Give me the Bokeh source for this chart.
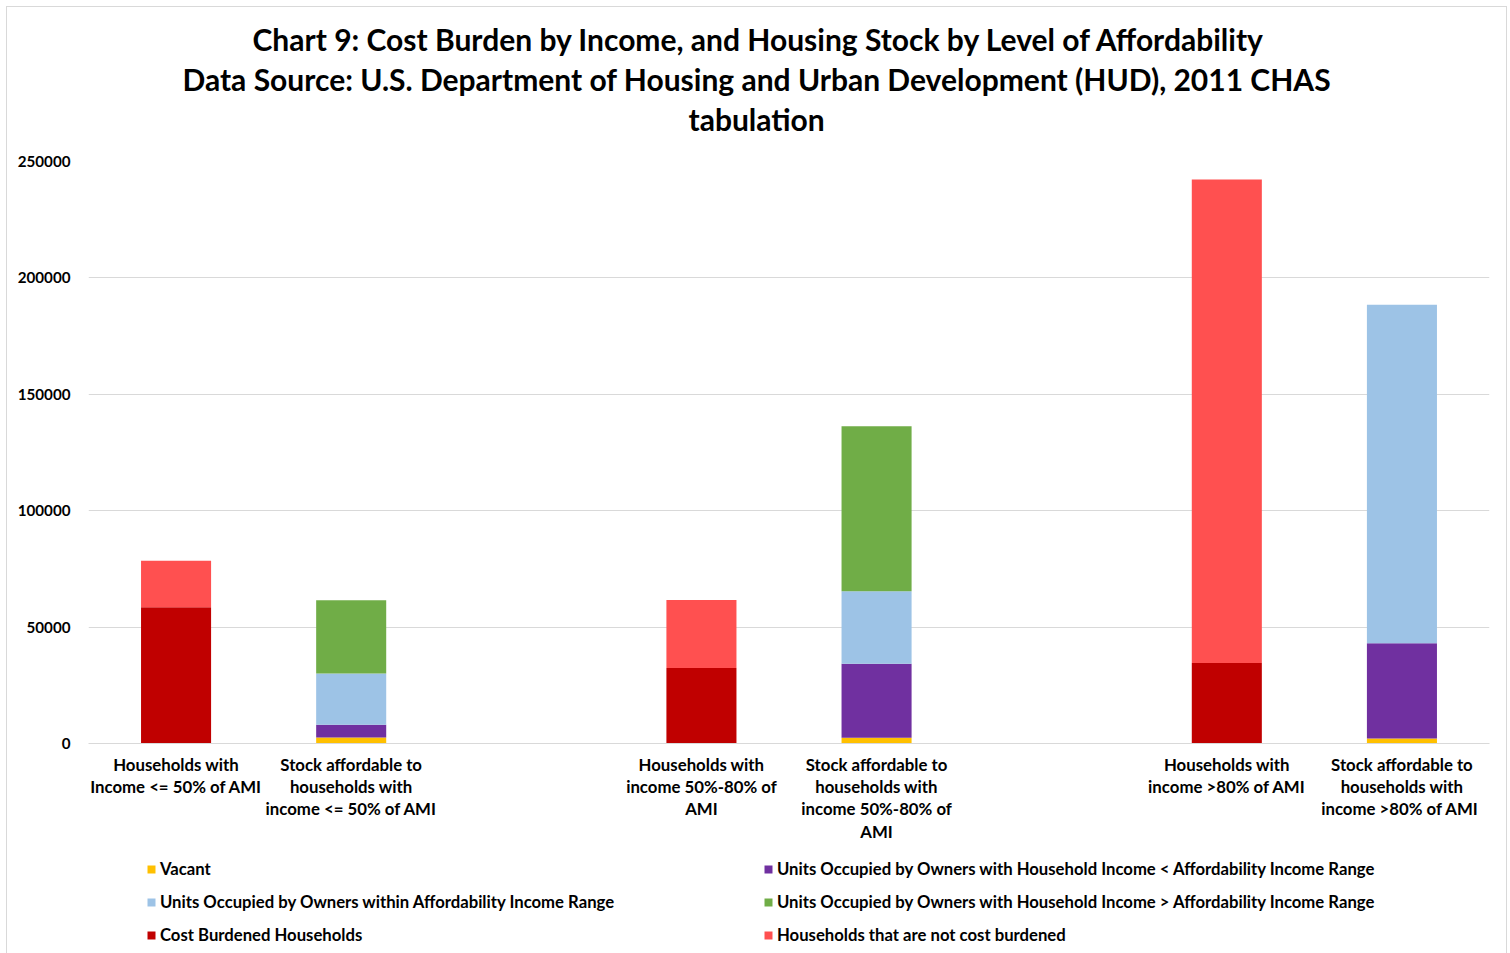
from bokeh.plotting import figure
from bokeh.layouts import column
from bokeh.models import FixedTicker, Legend, LegendItem, Title, NumeralTickFormatter, Range1d
from bokeh.embed import file_html
from bokeh.resources import INLINE

categories = [
    "Households with\nIncome <= 50% of AMI",
    "Stock affordable to\nhouseholds with\nincome <= 50% of AMI",
    "",
    "Households with\nincome 50%-80% of\nAMI",
    "Stock affordable to\nhouseholds with\nincome 50%-80% of\nAMI",
    "",
    "Households with\nincome >80% of AMI",
    "Stock affordable to\nhouseholds with\nincome  >80% of AMI",
]

vacant = [0, 2600, 0, 0, 2450, 0, 0, 2150]
owners_below = [0, 5450, 0, 0, 31840, 0, 0, 40880]
owners_within = [0, 22070, 0, 0, 31110, 0, 0, 145440]
owners_above = [0, 31410, 0, 0, 70870, 0, 0, 0]
cost_burdened = [58500, 0, 0, 32400, 0, 0, 34550, 0]
not_burdened = [20000, 0, 0, 29260, 0, 0, 207700, 0]

series_names = [
    "Vacant",
    "Units Occupied by Owners with Household Income < Affordability Income Range",
    "Units Occupied by Owners within Affordability Income Range",
    "Units Occupied by Owners with Household Income > Affordability Income Range",
    "Cost Burdened Households",
    "Households that are not cost burdened",
]
series_keys = ["vacant", "below", "within", "above", "burdened", "not_burdened"]
series_colors = ["#FFC000", "#7030A0", "#9DC3E6", "#70AD47", "#C00000", "#FF5050"]
y_ticks = [0, 50000, 100000, 150000, 200000, 250000]
title_lines = [
    "Chart 9: Cost Burden by Income, and Housing Stock by Level of Affordability",
    "Data Source: U.S. Department of Housing and Urban Development (HUD), 2011 CHAS",
    "tabulation",
]

x = list(range(1, len(categories) + 1))
data = dict(x=x, vacant=vacant, below=owners_below, within=owners_within,
            above=owners_above, burdened=cost_burdened, not_burdened=not_burdened)

FONT = "Lato"
BORDER = "1px solid #d9d9d9"

p = figure(width=1501, height=842, output_backend="svg", toolbar_location=None,
           x_range=Range1d(0.5, len(categories) + 0.5), y_range=Range1d(0, 250000),
           min_border_left=81, min_border_right=19, min_border_top=154, min_border_bottom=106)
p.styles = {"border-top": BORDER, "border-left": BORDER, "border-right": BORDER,
            "box-sizing": "border-box", "margin-left": "6px", "margin-top": "6px"}

# titles are centred on the whole chart box rather than on the plot frame
def make_title(t, offset, size="30px"):
    return Title(text=t, align="left", text_font=FONT, text_font_size=size,
                 text_font_style="bold", text_color="#000000", standoff=2, offset=offset)

p.title = make_title(title_lines[0], 164)
p.add_layout(make_title(" ", 0, "16.5px"), "above")
p.add_layout(make_title(title_lines[2], 600), "above")
p.add_layout(make_title(title_lines[1], 94), "above")

renderers = p.vbar_stack(series_keys, x="x", width=0.4, source=data,
                         color=series_colors, line_color=None)

p.outline_line_color = None
p.xgrid.grid_line_color = None
p.ygrid.grid_line_color = "#d9d9d9"
p.ygrid.grid_line_width = 1

p.yaxis.ticker = FixedTicker(ticks=y_ticks)
p.yaxis.formatter = NumeralTickFormatter(format="0")
p.yaxis.axis_line_color = None
p.yaxis.major_tick_line_color = None
p.yaxis.minor_tick_line_color = None
p.yaxis.major_label_standoff = 12
p.yaxis.major_label_text_font = FONT
p.yaxis.major_label_text_font_size = "15.2px"
p.yaxis.major_label_text_font_style = "bold"
p.yaxis.major_label_text_color = "#000000"

p.xaxis.ticker = FixedTicker(ticks=x)
p.xaxis.major_label_overrides = {i + 1: c for i, c in enumerate(categories)}
p.xaxis.axis_line_color = "#d9d9d9"
p.xaxis.major_tick_line_color = None
p.xaxis.minor_tick_line_color = None
p.xaxis.major_label_standoff = 4
p.xaxis.major_label_text_font = FONT
p.xaxis.major_label_text_font_size = "16.8px"
p.xaxis.major_label_text_font_style = "bold"
p.xaxis.major_label_text_color = "#000000"
p.xaxis.major_label_text_line_height = 1.07

# Legend panel: a second figure below the chart; its (hidden) bars use the same data,
# so only the legend swatches show.
lg = figure(width=1501, height=105, output_backend="svg", toolbar_location=None,
            x_range=Range1d(100, 101), y_range=Range1d(-2e6, -1e6), min_border=0)
lg.styles = {"border-left": BORDER, "border-right": BORDER,
             "box-sizing": "border-box", "margin-left": "6px"}
lg.axis.visible = False
lg.grid.visible = False
lg.outline_line_color = None
swatches = lg.vbar_stack(series_keys, x="x", width=0.4, source=data,
                         color=series_colors, line_color=None)
for r in swatches:
    r.visible = False

def make_legend(idx, xpos):
    items = [LegendItem(label=series_names[i], renderers=[swatches[i]]) for i in idx]
    return Legend(items=items, location=(xpos, 8), glyph_width=10, glyph_height=10,
                  label_text_font=FONT, label_text_font_size="16.7px", label_text_font_style="bold",
                  label_text_color="#000000", label_standoff=4, spacing=12, label_height=21,
                  padding=0, margin=0, border_line_color=None, background_fill_alpha=0,
                  inactive_fill_alpha=0)

lg.add_layout(make_legend([0, 2, 4], 58), "center")
lg.add_layout(make_legend([1, 3, 5], 675), "center")

layout = column(p, lg, spacing=0)
open("out.html", "w").write(file_html(layout, INLINE))
